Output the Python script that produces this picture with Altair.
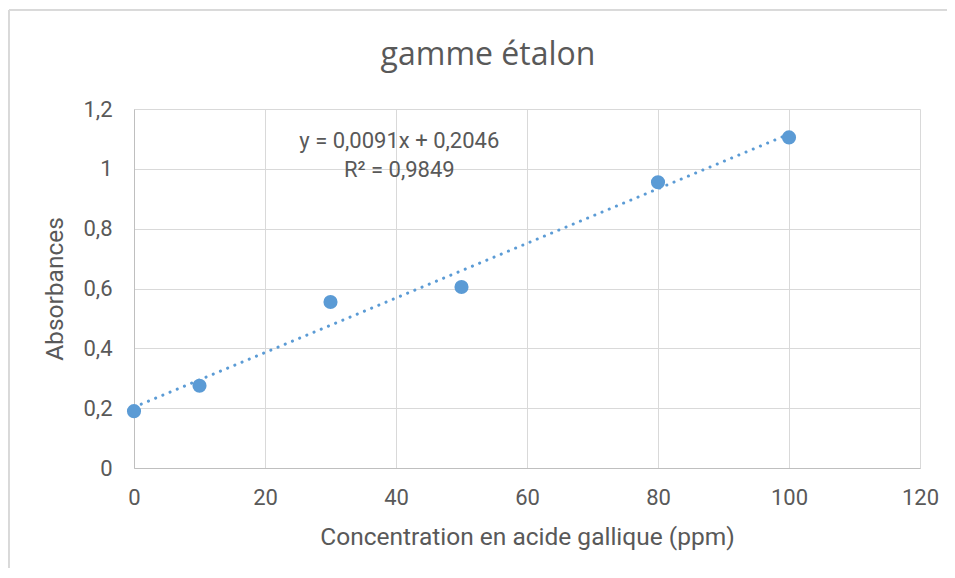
import altair as alt
import pandas as pd

# Data
conc = [0, 10, 30, 50, 80, 100]
absorb = [0.19, 0.275, 0.555, 0.605, 0.955, 1.105]

eq_text = ["y = 0,0091x + 0,2046", "R² = 0,9849"]
eq_x = [40.5, 40.5]
eq_y = [1.092, 0.995]

x_ticks = [0, 20, 40, 60, 80, 100, 120]
y_ticks = [0, 0.2, 0.4, 0.6, 0.8, 1.0, 1.2]

BLUE = "#5B9BD5"
TXT = "#595959"
FONT = "Roboto"

df = pd.DataFrame({"conc": conc, "abs": absorb})
eq = pd.DataFrame({"x": eq_x, "y": eq_y, "t": eq_text})

xs = alt.Scale(domain=[0, 120], nice=False, zero=False)
ys = alt.Scale(domain=[0, 1.2], nice=False, zero=False)

LBL = "replace(toString(datum.value), '.', ',')"

xax = alt.Axis(values=x_ticks, title="Concentration en acide gallique (ppm)",
               labelExpr=LBL, labelFlush=False,
               grid=True, gridColor="#D9D9D9", domainColor="#BFBFBF", ticks=False,
               labelFont=FONT, labelFontSize=22, labelColor=TXT, labelPadding=19,
               titleFont=FONT, titleFontSize=24.5, titleColor=TXT, titleFontWeight="normal",
               titlePadding=17)
yax = alt.Axis(values=y_ticks, title="Absorbances",
               labelExpr=LBL, labelFlush=False,
               grid=True, gridColor="#D9D9D9", domainColor="#BFBFBF", ticks=False,
               labelFont=FONT, labelFontSize=22, labelColor=TXT, labelPadding=22,
               titleFont=FONT, titleFontSize=24.5, titleColor=TXT, titleFontWeight="normal",
               titlePadding=15)

points = alt.Chart(df).mark_circle(size=200, color=BLUE, opacity=1).encode(
    x=alt.X("conc:Q", scale=xs, axis=xax),
    y=alt.Y("abs:Q", scale=ys, axis=yax),
)

trend = alt.Chart(df).transform_regression("conc", "abs", method="linear").mark_line(
    color=BLUE, strokeWidth=3, strokeDash=[0.1, 7.7], strokeCap="round"
).encode(
    x=alt.X("conc:Q", scale=xs),
    y=alt.Y("abs:Q", scale=ys),
)

label = alt.Chart(eq).mark_text(font=FONT, fontSize=22, color=TXT,
                                align="center", baseline="middle").encode(
    x=alt.X("x:Q", scale=xs),
    y=alt.Y("y:Q", scale=ys),
    text="t:N",
)

frame_top = alt.Chart(df).mark_rule(color="#D9D9D9", strokeWidth=1).encode(
    x=alt.value(-125), x2=alt.value(830), y=alt.value(-99)
)
frame_left = alt.Chart(df).mark_rule(color="#D9D9D9", strokeWidth=1).encode(
    x=alt.value(-125), y=alt.value(-99), y2=alt.value(470)
)

chart = alt.layer(frame_top, frame_left, trend, points, label).properties(
    width=786, height=359,
    title=alt.TitleParams("gamme étalon", font="Open Sans", fontSize=32,
                          fontWeight="normal", color=TXT, anchor="middle",
                          frame="group", dx=-39, offset=-62),
    autosize=alt.AutoSizeParams(type="none"),
    padding={"left": 126, "top": 101, "right": 27, "bottom": 100},
).configure_view(stroke=None)

chart.save("out.html", embed_options={"renderer": "svg", "actions": False})
